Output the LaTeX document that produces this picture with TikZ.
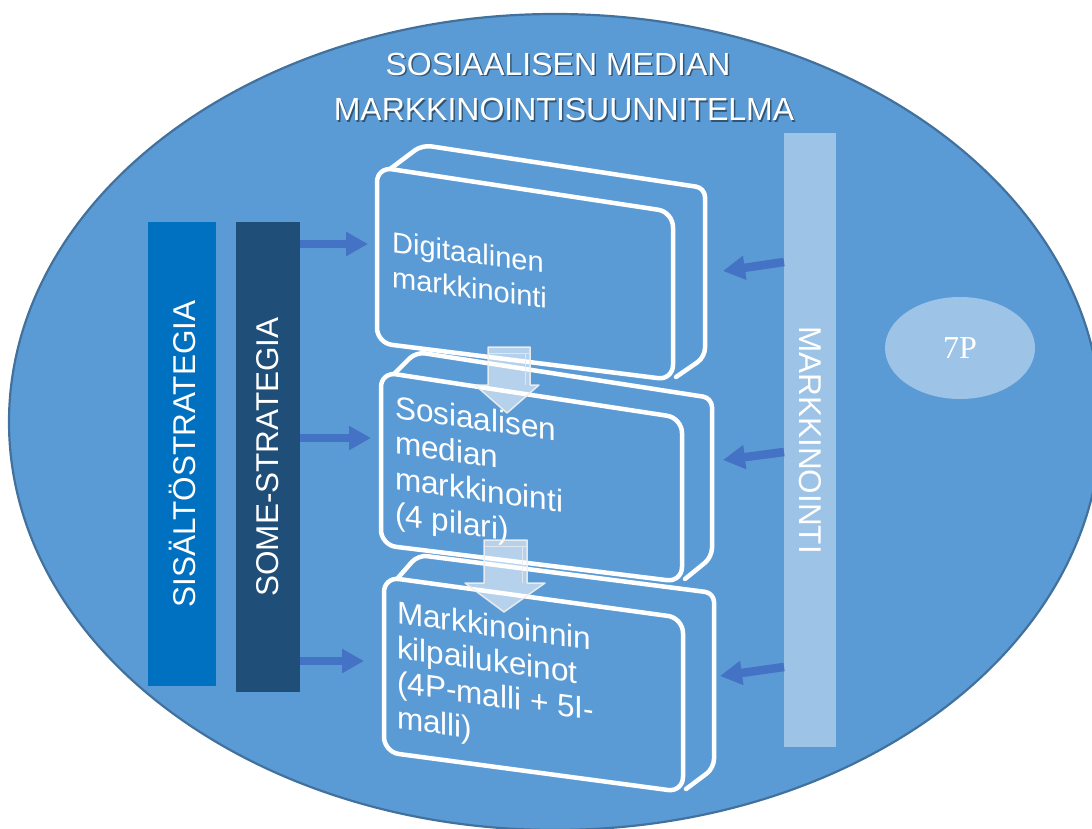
\documentclass[tikz,border=0pt]{standalone}
\usepackage{fontspec}
\setmainfont{Liberation Sans}
\newfontfamily\serifF{Liberation Serif}
\usetikzlibrary{arrows.meta,shapes.geometric}
\definecolor{ellfill}{HTML}{5B9BD5}
\definecolor{elldraw}{HTML}{41719C}
\definecolor{sisbar}{HTML}{0070C0}
\definecolor{somebar}{HTML}{1F4E79}
\definecolor{markbar}{HTML}{9DC3E6}
\definecolor{arrblue}{HTML}{4472C4}
\begin{document}
\begin{tikzpicture}[x=1pt,y=-1pt,
  barnode/.style={inner sep=0pt, text=white, font=\fontsize{31.5}{36}\selectfont},
  titletext/.style={anchor=base, text=white, inner sep=0pt, font=\fontsize{32}{38}\selectfont},
  titleshadow/.style={anchor=base, text=black, opacity=0.45, inner sep=0pt, font=\fontsize{32}{38}\selectfont},
  boxline/.style={draw=white, line width=4.5pt, rounded corners=15pt, line join=round, line cap=round},
  backline/.style={draw=white, line width=4.5pt, rounded corners=9pt, line join=round, line cap=round},
  boxtext/.style={anchor=base west, text=white, inner sep=0pt, yslant=-0.14},
  bluearrow/.style={draw=arrblue, line width=8.5pt, -{Triangle[length=22pt,width=23pt]}},
  downarrow/.style={fill=white, fill opacity=0.55, draw=white!88!gray, draw opacity=0.9, line width=1.5pt, line join=round}
]
\useasboundingbox (0,0) rectangle (1092,829);
\clip (0,0) rectangle (1092,829);

% background ellipse
\node[ellipse, draw=elldraw, line width=2.2pt, fill=ellfill, minimum width=1092pt, minimum height=816pt, inner sep=0pt] (bg) at (555,422) {};

% title
\node[titleshadow] (t1s) at (559.5,77) {SOSIAALISEN MEDIAN};
\node[titletext] (t1) at (558,75.5) {SOSIAALISEN MEDIAN};
\node[titleshadow] (t2s) at (565.5,122.5) {MARKKINOINTISUUNNITELMA};
\node[titletext] (t2) at (564,121) {MARKKINOINTISUUNNITELMA};

% bars
\node[barnode, fill=sisbar, rotate=90, minimum width=464pt, minimum height=68pt] (sis) at (182,454) {SISÄLTÖSTRATEGIA};
\node[barnode, fill=somebar, rotate=90, minimum width=470pt, minimum height=64pt] (some) at (268,457) {SOME-STRATEGIA};
\node[barnode, fill=markbar, rotate=-90, minimum width=614pt, minimum height=52pt] (mark) at (810,440) {MARKKINOINTI};

% 7P ellipse
\node[ellipse, fill=markbar, minimum width=150pt, minimum height=102pt, inner sep=0pt, text=white, font=\serifF\fontsize{32}{36}\selectfont] (p7) at (960,348) {7P};

% left arrows
\coordinate (la1s) at (300,244); \coordinate (la1e) at (368,244);
\coordinate (la2s) at (300,438); \coordinate (la2e) at (371,438);
\coordinate (la3s) at (300,661); \coordinate (la3e) at (364,661);
\draw[bluearrow] (la1s) -- (la1e);
\draw[bluearrow] (la2s) -- (la2e);
\draw[bluearrow] (la3s) -- (la3e);

% right arrows
\coordinate (ra1s) at (784,262); \coordinate (ra1e) at (723,271);
\coordinate (ra2s) at (784,452); \coordinate (ra2e) at (723,460);
\coordinate (ra3s) at (784,667); \coordinate (ra3e) at (720,676);
\draw[bluearrow] (ra1s) -- (ra1e);
\draw[bluearrow] (ra2s) -- (ra2e);
\draw[bluearrow] (ra3s) -- (ra3e);

% box 1
\draw[boxline] (377,167) -- (673,212) -- (673,380) -- (377,343) -- cycle;
\draw[backline] (390,169) -- (422,145) -- (705,188) -- (705,357) -- (676,377);
% box 2
\draw[boxline] (381,372) -- (682,418) -- (682,582) -- (381,545) -- cycle;
\draw[backline] (394,374) -- (416,352) -- (712,398) -- (712,557) -- (685,579);
% box 3
\draw[boxline] (384,577) -- (683,618) -- (683,792) -- (384,752) -- cycle;
\draw[backline] (397,579) -- (418,555) -- (714,593) -- (714,768) -- (686,789);

% box texts
\begin{scope}[font=\fontsize{29}{34}\selectfont]
\node[boxtext] (b1l1) at (392,252) {Digitaalinen};
\node[boxtext] (b1l2) at (392,287) {markkinointi};
\end{scope}
\begin{scope}[font=\fontsize{31.5}{36}\selectfont]
\node[boxtext] (b2l1) at (395,418) {Sosiaalisen};
\node[boxtext] (b2l2) at (395,453.5) {median};
\node[boxtext] (b2l3) at (395,489) {markkinointi};
\node[boxtext] (b2l4) at (395,524.5) {(4 pilari)};
\node[boxtext] (b3l1) at (397,623) {Markkinoinnin};
\node[boxtext] (b3l2) at (397,658) {kilpailukeinot};
\node[boxtext] (b3l3) at (397,693) {(4P-malli + 5I-};
\node[boxtext] (b3l4) at (397,728) {malli)};
\end{scope}

% down arrows
\draw[downarrow] (488,347) -- (530,347) -- (530,385) -- (539,385) -- (507,413) -- (475,385) -- (488,385) -- cycle;
\draw[white!85!gray, line width=1pt, opacity=0.8] (488,353) -- (530,353) (525,353) -- (525,385);
\draw[downarrow] (484,540) -- (527,540) -- (527,583) -- (545,583) -- (504,612) -- (465,583) -- (484,583) -- cycle;
\draw[white!85!gray, line width=1pt, opacity=0.8] (484,546) -- (527,546) (522,546) -- (522,583);
\end{tikzpicture}
\end{document}
